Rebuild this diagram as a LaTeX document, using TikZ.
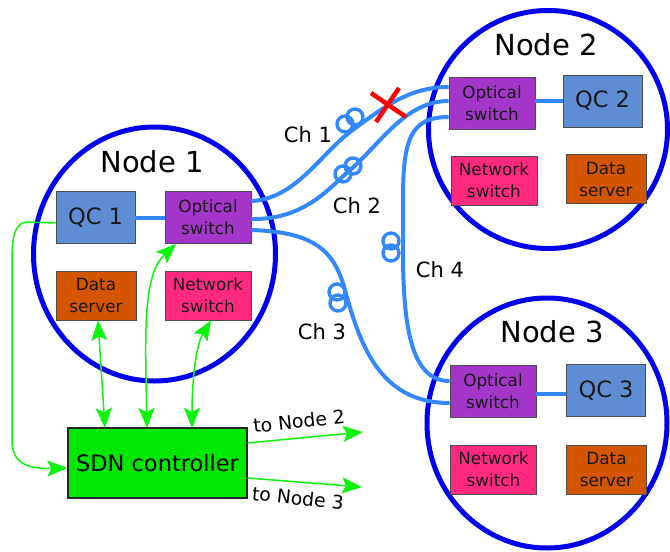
\documentclass[tikz,border=0pt]{standalone}
\usepackage{fontspec}
\setmainfont{DejaVu Sans}
\usetikzlibrary{arrows.meta,calc}
\definecolor{nodeblue}{RGB}{0,0,238}
\definecolor{fiber}{RGB}{51,136,255}
\definecolor{qcfill}{RGB}{95,141,211}
\definecolor{osfill}{RGB}{163,53,200}
\definecolor{dsfill}{RGB}{212,85,0}
\definecolor{nsfill}{RGB}{255,42,127}
\definecolor{sdnfill}{RGB}{0,232,0}
\definecolor{ctl}{RGB}{10,245,10}
\definecolor{xred}{RGB}{255,0,0}
\begin{document}
\begin{tikzpicture}[x=1pt,y=-1pt,
  nodecircle/.style={draw=nodeblue, line width=5pt},
  nodelabel/.style={font=\fontsize{29}{32}\selectfont, text=black},
  box/.style={draw=black!70, line width=0.8pt, inner sep=0pt, align=center,
    font=\fontsize{16.8}{22}\selectfont, text=black!90},
  qcbox/.style={box, fill=qcfill, minimum width=79pt, minimum height=52pt, font=\fontsize{22.5}{26}\selectfont},
  osbox/.style={box, fill=osfill, minimum width=86pt, minimum height=52pt},
  dsbox/.style={box, fill=dsfill, minimum width=80pt, minimum height=49pt},
  nsbox/.style={box, fill=nsfill, minimum width=86pt, minimum height=49pt},
  fib/.style={draw=fiber, line width=4pt},
  coil/.style={draw=fiber, line width=3.4pt},
  chlabel/.style={font=\fontsize{21}{24}\selectfont, text=black},
  ctlline/.style={draw=ctl, line width=1.5pt},
  ctltip/.tip={Stealth[length=20pt,width=16pt,inset=4pt]},
  tolabel/.style={font=\fontsize{18.8}{22}\selectfont, text=black}
]
\useasboundingbox (0,0) rectangle (670,552);

% node circles
\draw[nodecircle] (154.5,254) ellipse [x radius=121, y radius=127];
\draw[nodecircle] (548,129.5) ellipse [x radius=119.5, y radius=119];
\draw[nodecircle] (547,423) ellipse [x radius=120, y radius=125];

\node[nodelabel] (n1l) at (152,162) {Node 1};
\node[nodelabel] (n2l) at (546,45) {Node 2};
\node[nodelabel] (n3l) at (552,332) {Node 3};

% boxes
\node[qcbox] (qc1) at (95.5,217.5) {QC 1};
\node[osbox] (os1) at (208,217.5) {Optical\\switch};
\node[dsbox] (ds1) at (96,295.5) {Data\\server};
\node[nsbox] (ns1) at (208,295.5) {Network\\switch};

\node[osbox] (os2) at (492,103) {Optical\\switch};
\node[qcbox] (qc2) at (602.5,101) {QC 2};
\node[nsbox] (ns2) at (494,180.5) {Network\\switch};
\node[dsbox] (ds2) at (606,179) {Data\\server};

\node[osbox] (os3) at (493,391) {Optical\\switch};
\node[qcbox] (qc3) at (606,390.5) {QC 3};
\node[nsbox] (ns3) at (493.5,469.5) {Network\\switch};
\node[dsbox] (ds3) at (606.5,469.5) {Data\\server};

% fibres
\draw[fib] (qc1.east |- 0,218) -- (os1.west |- 0,218);
\draw[fib] (os2.east |- 0,101) -- (qc2.west |- 0,101);
\draw[fib] (os3.east |- 0,394) -- (qc3.west |- 0,394);

% Ch 1
\draw[fib] (os1.east |- 0,201) .. controls (295,199) and (320,155) .. (350,132)
   .. controls (385,106) and (410,87) .. (os2.west |- 0,87);
% Ch 2
\draw[fib] (os1.east |- 0,219) .. controls (305,220) and (330,187) .. (350,170)
   .. controls (380,144.5) and (405,101) .. (os2.west |- 0,101);
% Ch 4
\draw[fib] (os2.west |- 0,117) .. controls (410,117) and (403,140) .. (403,200)
   -- (403,250) .. controls (403,330) and (412,381) .. (os3.west |- 0,381);
% Ch 3
\draw[fib] (os1.east |- 0,230) .. controls (320,232) and (335,255) .. (345,290)
   .. controls (360,345) and (380,403) .. (os3.west |- 0,403);

% coils
\draw[coil] (345,124) circle [radius=8];
\draw[coil] (355,117) circle [radius=8];
\draw[coil] (343,174) circle [radius=8];
\draw[coil] (353,166) circle [radius=8];
\draw[coil] (337,292) circle [radius=8];
\draw[coil] (338,303) circle [radius=8];
\draw[coil] (391,241) circle [radius=8];
\draw[coil] (391,253) circle [radius=8];

% broken link
\draw[draw=xred, line width=4.5pt] (371,93) -- (406,117);
\draw[draw=xred, line width=4.5pt] (376,122) -- (399,88);

\node[chlabel] (ch1) at (308,135) {Ch 1};
\node[chlabel] (ch2) at (357,206) {Ch 2};
\node[chlabel] (ch4) at (440,270) {Ch 4};
\node[chlabel] (ch3) at (322,332) {Ch 3};

% SDN controller
\node[draw=black!85, line width=1.2pt, fill=sdnfill, minimum width=179pt, minimum height=70pt,
      inner sep=0pt, font=\fontsize{22.5}{26}\selectfont, text=black] (sdn) at (157.5,463) {SDN controller};

\coordinate (s1) at (105,428);
\coordinate (s2) at (147,428);
\coordinate (s3) at (192,428);
\coordinate (t2) at (363,432);
\coordinate (t3) at (362,487);

\draw[ctlline, -{ctltip}] (qc1.west |- 0,223) -- (27,222) .. controls (15,223) and (12,235) .. (12,262)
   -- (12,440) .. controls (12,462) and (25,469) .. (sdn.west |- 0,468);
\draw[ctlline, {ctltip}-{ctltip}] (ds1.south -| 98,0) -- (s1);
\draw[ctlline, {ctltip}-{ctltip}] (s2) .. controls (145,330) and (143,275) .. (os1.south -| 176,0);
\draw[ctlline, {ctltip}-{ctltip}] (s3) .. controls (192,380) and (196,345) .. (ns1.south -| 211,0);

\draw[ctlline, -{ctltip}] (sdn.east |- 0,443) -- (t2);
\draw[ctlline, -{ctltip}] (sdn.east |- 0,478) -- (t3);
\node[tolabel, rotate=6] (tl2) at (299,421) {to Node 2};
\node[tolabel, rotate=-6] (tl3) at (298,498) {to Node 3};
\end{tikzpicture}
\end{document}
